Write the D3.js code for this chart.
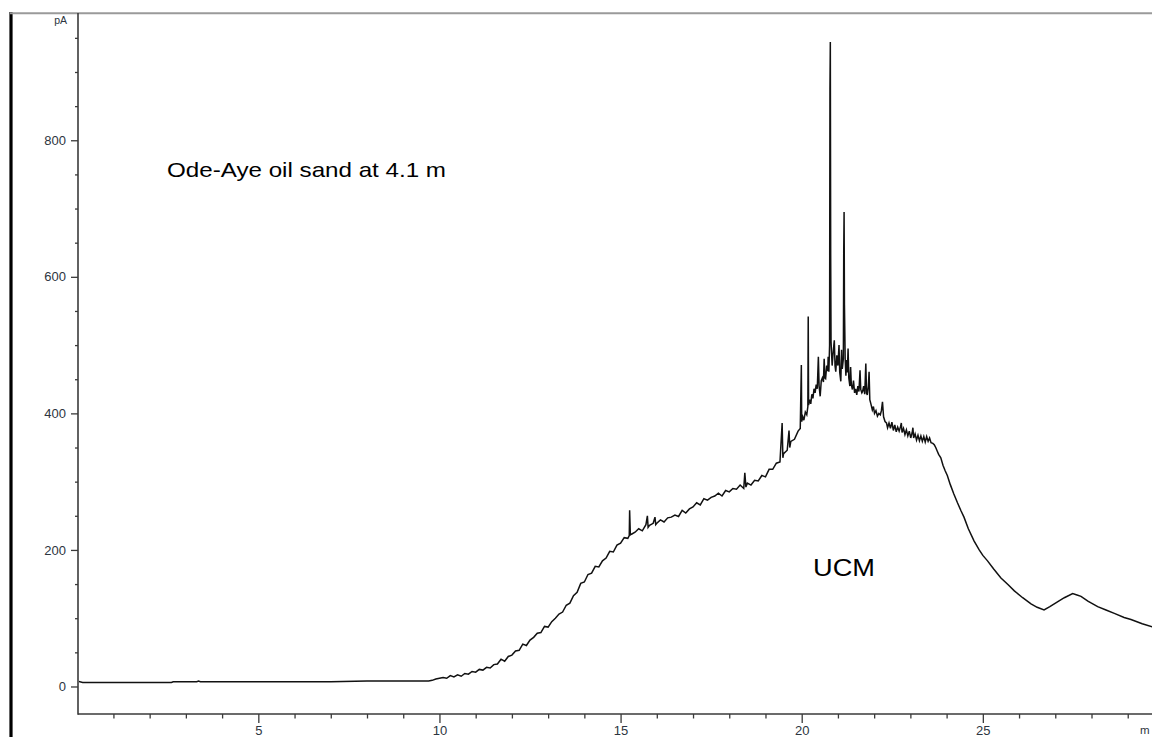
<!DOCTYPE html>
<html><head><meta charset="utf-8">
<script src="https://cdn.jsdelivr.net/npm/d3@7"></script>
<style>body{margin:0;background:#fff;} svg{display:block;}</style>
</head><body>
<svg id="chart" width="1152" height="737"></svg>
<script>
// Retention time (min) and detector signal (pA)
const rtMin = [
  0,0.15,1.5,2.6,2.65,3.3,3.35,3.4,5,6,
  7,8,9,9.6,
  9.7,9.8,9.9,10.0,10.1,10.2,10.3,10.4,10.5,10.6,
  10.7,10.8,10.9,11.0,11.1,11.2,11.3,11.4,11.5,11.6,
  11.7,11.8,11.9,12.0,12.1,12.2,12.3,12.4,12.5,12.6,
  12.7,12.8,12.9,13.0,13.1,13.2,13.3,13.4,13.5,13.6,
  13.7,13.8,13.9,14.0,14.1,14.2,14.3,14.4,14.5,14.6,
  14.7,14.8,14.9,15.0,15.1,15.2,15.24,15.25,15.27,15.3,
  15.4,15.5,15.6,15.7,15.74,15.76,15.8,15.9,15.95,15.97,
  16.0,16.1,16.2,16.3,16.4,16.5,16.6,16.7,16.8,16.9,
  17.0,17.1,17.2,17.3,17.4,17.5,17.6,17.7,17.8,17.9,
  18.0,18.1,18.2,18.3,18.4,18.43,18.46,18.5,18.6,18.7,
  18.8,18.9,19.0,19.1,19.2,19.3,19.4,19.46,19.48,19.5,
  19.6,19.65,19.67,19.7,19.8,19.9,19.96,19.99,
  20.00,20.03,20.06,20.10,20.14,20.17,20.18,20.19,20.22,20.25,
  20.28,20.31,20.34,20.37,20.40,20.43,20.46,20.48,20.51,20.54,
  20.57,20.60,20.62,20.64,20.66,20.69,20.72,20.73,20.75,20.77,
  20.78,20.79,20.80,20.81,20.84,20.87,20.90,20.92,20.94,20.97,
  21.00,21.03,21.05,21.08,21.10,21.12,21.15,21.16,21.17,21.18,
  21.20,21.22,21.24,21.26,21.28,21.30,21.33,21.35,21.37,21.40,
  21.43,21.46,21.49,21.52,21.55,21.58,21.61,21.63,21.66,21.68,
  21.71,21.74,21.77,21.79,21.81,21.84,21.86,21.88,21.91,21.95,
  21.98,22.01,22.05,22.09,22.13,22.17,22.20,22.23,22.26,22.30,
  22.34,22.37,22.41,22.45,22.49,22.53,22.57,22.61,22.65,22.69,
  22.73,22.75,22.77,22.81,22.85,22.89,22.93,22.97,23.01,23.05,
  23.07,23.09,23.13,23.17,23.21,23.25,23.29,23.33,23.37,23.41,
  23.45,23.49,23.53,23.57,23.62,23.66,23.70,23.74,23.78,23.84,
  23.90,23.96,24.02,24.10,24.20,24.30,24.40,24.48,24.60,24.76,
  24.90,25.00,25.13,25.30,25.50,25.70,25.87,26.10,26.33,26.50,
  26.69,26.85,27.06,27.25,27.48,27.60,27.71,27.90,28.17,28.40,
  28.63,28.90,29.09,29.40,29.70
];
const signalPA = [
  8,6,6,6,7,7,8,7,7,7,
  7,8,8,8,
  8,9,11,12,13,12,16,14,17,15,
  19,18,22,21,25,24,28,27,32,33,
  40,37,44,46,52,53,62,60,68,72,
  78,79,88,87,95,100,106,109,119,122,
  133,138,151,153,164,166,176,175,184,188,
  198,197,207,210,218,217,221,258,222,223,
  226,231,228,237,250,233,236,239,248,237,
  239,244,241,247,248,251,249,258,254,260,
  263,269,266,275,273,277,279,283,279,287,
  285,290,289,295,290,313,292,298,295,302,
  301,309,307,318,318,327,329,386,335,341,
  346,375,350,359,362,374,378,471,
  388,395,390,402,398,410,542,412,420,414,
  428,422,436,430,442,436,483,440,425,448,
  452,446,480,452,451,470,462,483,461,500,
  875,944,632,505,470,490,507,470,461,485,
  470,500,460,447,493,465,480,634,695,560,
  480,455,478,460,495,452,440,468,442,435,
  448,430,436,427,440,432,463,435,430,432,
  440,428,473,430,427,440,461,420,414,405,
  410,400,404,396,400,398,404,417,395,388,
  386,379,386,378,387,375,383,373,380,374,
  381,386,372,378,369,376,367,374,364,372,
  379,364,370,361,368,360,367,359,366,358,
  366,359,364,357,356,354,350,345,340,335,
  324,316,309,296,282,269,257,248,231,213,
  200,192,184,172,159,149,140,130,121,116,
  112,117,124,130,136,134,132,125,117,112,
  107,101,98,92,87
];
const yMajorTicks = [0, 200, 400, 600, 800];
const yMinorTicks = [50,100,150,250,300,350,450,500,550,650,700,750,850,900,950];
const xMajorTicks = [5, 10, 15, 20, 25];
const xMinorTicks = [1,2,3,4,6,7,8,9,11,12,13,14,16,17,18,19,21,22,23,24,26,27,28,29];
const yUnitLabel = "pA";
const xUnitLabel = "m";
const sampleLabel = "Ode-Aye oil sand at 4.1 m";
const humpLabel = "UCM";

const svg = d3.select("#chart");
const plotLeft = 78, plotRight = 1152, plotTop = 13, plotBottom = 714;

const x = d3.scaleLinear().domain([0, 29.67]).range([77.2, 1152]);
const y = d3.scaleLinear().domain([-40.3, 986.4]).range([714, 13]);

const axisColor = "#3a3a3a";
const labelColor = "#2d3540";
const tickFont = "'Liberation Sans', Arial, sans-serif";

// frame: thick left bar and top border
svg.append("line").attr("x1", 11).attr("x2", 11).attr("y1", 12).attr("y2", 737)
  .attr("stroke", "#000").attr("stroke-width", 3.2);
svg.append("line").attr("x1", 10).attr("x2", 1152).attr("y1", 13.3).attr("y2", 13.3)
  .attr("stroke", "#9a9a9a").attr("stroke-width", 2);

// trace
svg.append("clipPath").attr("id", "plotclip").append("rect")
  .attr("x", plotLeft + 1).attr("y", plotTop + 1).attr("width", plotRight - plotLeft).attr("height", plotBottom - plotTop - 1);
const line = d3.line().x((d, i) => x(rtMin[i])).y(d => y(d)).curve(d3.curveLinear);
svg.append("path").datum(signalPA)
  .attr("clip-path", "url(#plotclip)")
  .attr("d", line).attr("fill", "none").attr("stroke", "#111").attr("stroke-width", 1.5)
  .attr("stroke-linejoin", "miter");

// y axis
const gy = svg.append("g").attr("transform", `translate(${plotLeft},0)`);
gy.call(d3.axisLeft(y).tickValues(yMajorTicks).tickSize(7).tickPadding(5).tickFormat(d3.format("d")));
gy.call(g => g.select(".domain").remove());
gy.selectAll(".tick line").attr("stroke", axisColor).attr("stroke-width", 1.3);
gy.selectAll(".tick text").attr("fill", labelColor).attr("font-family", tickFont).attr("font-size", 13);
const gym = svg.append("g").attr("transform", `translate(${plotLeft},0)`);
gym.call(d3.axisLeft(y).tickValues(yMinorTicks).tickSize(3).tickFormat(""));
gym.call(g => g.select(".domain").remove());
gym.selectAll(".tick line").attr("stroke", axisColor).attr("stroke-width", 1.3);

// x axis
const gx = svg.append("g").attr("transform", `translate(0,${plotBottom})`);
gx.call(d3.axisBottom(x).tickValues(xMajorTicks).tickSize(9).tickPadding(3).tickFormat(d3.format("d")));
gx.call(g => g.select(".domain").remove());
gx.selectAll(".tick line").attr("stroke", axisColor).attr("stroke-width", 1.3);
gx.selectAll(".tick text").attr("fill", labelColor).attr("font-family", tickFont).attr("font-size", 13);
const gxm = svg.append("g").attr("transform", `translate(0,${plotBottom})`);
gxm.call(d3.axisBottom(x).tickValues(xMinorTicks).tickSize(4.5).tickFormat(""));
gxm.call(g => g.select(".domain").remove());
gxm.selectAll(".tick line").attr("stroke", axisColor).attr("stroke-width", 1.3);

// axis lines
svg.append("line").attr("x1", plotLeft).attr("x2", plotLeft).attr("y1", plotTop).attr("y2", plotBottom + 0.7)
  .attr("stroke", axisColor).attr("stroke-width", 1.6);
svg.append("line").attr("x1", plotLeft).attr("x2", plotRight).attr("y1", plotBottom).attr("y2", plotBottom)
  .attr("stroke", axisColor).attr("stroke-width", 1.6);

// unit labels
svg.append("text").attr("x", 67).attr("y", 24).attr("text-anchor", "end")
  .attr("font-family", tickFont).attr("font-size", 10.5).attr("fill", labelColor).text(yUnitLabel);
svg.append("text").attr("x", 1140).attr("y", 733.5)
  .attr("font-family", tickFont).attr("font-size", 11.5).attr("fill", labelColor).text(xUnitLabel);

// annotations
svg.append("text").attr("x", 167).attr("y", 177)
  .attr("font-family", "'Liberation Sans', Arial, sans-serif").attr("font-size", 21).attr("fill", "#000")
  .attr("textLength", 279).attr("lengthAdjust", "spacingAndGlyphs")
  .text(sampleLabel);
svg.append("text").attr("x", 813).attr("y", 576)
  .attr("font-family", "'Liberation Sans', Arial, sans-serif").attr("font-size", 23).attr("fill", "#000")
  .attr("textLength", 62).attr("lengthAdjust", "spacingAndGlyphs")
  .text(humpLabel);
</script>
</body></html>
